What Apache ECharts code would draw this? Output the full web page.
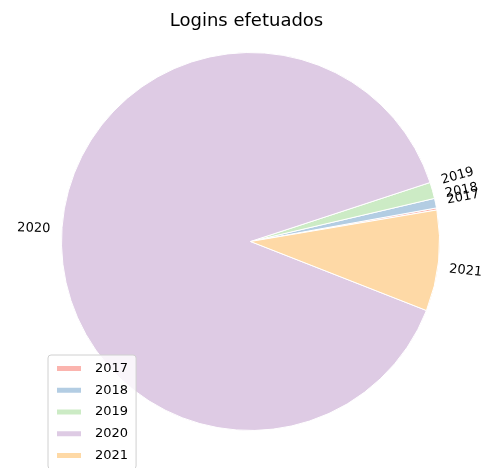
<!DOCTYPE html>
<html>
<head>
<meta charset="utf-8">
<script src="https://cdn.jsdelivr.net/npm/echarts@6/dist/echarts.min.js"></script>
<style>
  html, body { margin: 0; padding: 0; background: #fff; }
  #chart { width: 493px; height: 468px; }
</style>
</head>
<body>
<div id="chart"></div>
<script>
// dados do gráfico
var years = ['2017', '2018', '2019', '2020', '2021'];
var logins = [5, 23, 39, 2500, 242];
var pastel = ['#fbb4ae', '#b3cde3', '#ccebc5', '#decbe4', '#fed9a6'];

var START = 9.6;
var chart = echarts.init(document.getElementById('chart'));

var total = logins.reduce(function (a, b) { return a + b; }, 0);
var acc = 0;
var pieData = years.map(function (y, i) {
	// rótulo acima ou abaixo da âncora, como o matplotlib com rotatelabels
	var mid = (START + (acc + logins[i] / 2) / total * 360) * Math.PI / 180;
	acc += logins[i];
	var up = Math.sin(mid) > 0;
	return {
		name: y,
		value: logins[i],
		itemStyle: { color: pastel[i] },
		label: { formatter: up ? '{b}\n ' : ' \n{b}' }
	};
});

var option = {
	animation: false,
	textStyle: { fontFamily: 'DejaVu Sans' },
	title: {
		text: 'Logins efetuados',
		left: 'center',
		top: 7,
		textStyle: { fontFamily: 'DejaVu Sans', fontSize: 18, fontWeight: 'normal', color: '#000' }
	},
	legend: {
		orient: 'vertical',
		left: 48,
		top: 355,
		height: 140,
		data: years,
		icon: 'rect',
		itemWidth: 26,
		itemHeight: 7,
		itemGap: 8.75,
		padding: [7, 8, 7, 7],
		backgroundColor: 'rgba(255,255,255,0.8)',
		borderColor: '#d0d0d0',
		borderWidth: 1,
		borderRadius: 3,
		selectedMode: false,
		textStyle: { fontFamily: 'DejaVu Sans', fontSize: 13, lineHeight: 13, color: '#000', padding: [0, 0, 0, 8] }
	},
	series: [{
		type: 'pie',
		center: [250.5, 241.5],
		radius: 189,
		startAngle: START,
		clockwise: false,
		avoidLabelOverlap: false,
		minShowLabelAngle: 0,
		bleedMargin: 0,
		labelLayout: { hideOverlap: false },
		data: pieData,
		itemStyle: { borderColor: '#fff', borderWidth: 1 },
		label: {
			show: true,
			position: 'outside',
			rotate: 'radial',
			distanceToLabelLine: 0,
			overflow: 'none',
			fontFamily: 'DejaVu Sans',
			fontSize: 13,
			lineHeight: 14,
			color: '#000'
		},
		labelLine: { show: false, length: 11.5, length2: 0 },
		emphasis: { disabled: true }
	}]
};

chart.setOption(option);
</script>
</body>
</html>
